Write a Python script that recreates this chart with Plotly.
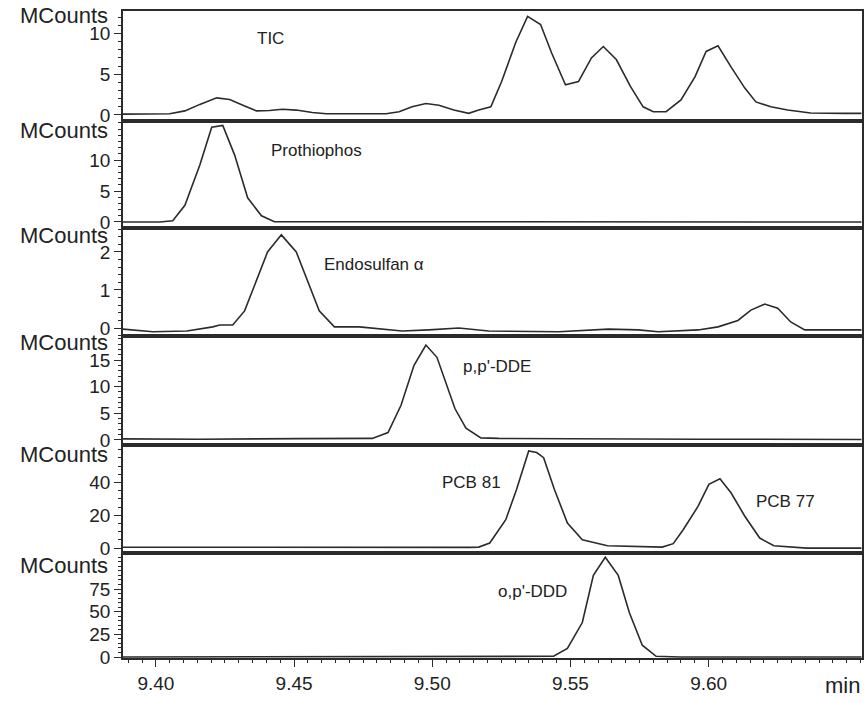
import plotly.graph_objects as go
from plotly.subplots import make_subplots

# ---------------- data ----------------
tic_t = [9.3881, 9.4050, 9.4105, 9.4159, 9.4220, 9.4267, 9.4321, 9.4364, 9.4411, 9.4458,
         9.4508, 9.4566, 9.4617, 9.4833, 9.4880, 9.4927, 9.4977, 9.5024, 9.5078, 9.5132,
         9.5168, 9.5212, 9.5251, 9.5302, 9.5345, 9.5392, 9.5432, 9.5482, 9.5529, 9.5576,
         9.5619, 9.5666, 9.5717, 9.5763, 9.5800, 9.5846, 9.5900, 9.5951, 9.5991, 9.6034,
         9.6081, 9.6131, 9.6171, 9.6225, 9.6286, 9.6369, 9.6492, 9.6553]
tic_v = [0.1, 0.15, 0.5, 1.3, 2.1, 1.9, 1.1, 0.5, 0.55, 0.7,
         0.6, 0.3, 0.15, 0.15, 0.4, 1.0, 1.4, 1.2, 0.6, 0.2,
         0.6, 1.0, 4.1, 8.9, 12.1, 11.1, 7.6, 3.7, 4.1, 7.0,
         8.4, 6.8, 3.5, 1.0, 0.4, 0.4, 1.85, 4.7, 7.8, 8.5,
         5.9, 3.3, 1.6, 1.0, 0.6, 0.25, 0.2, 0.2]

proth_t = [9.3881, 9.4014, 9.4061, 9.4105, 9.4159, 9.4202, 9.4242, 9.4285, 9.4332, 9.4382,
           9.4429, 9.5000, 9.5600, 9.6553]
proth_v = [0.0, 0.0, 0.2, 2.7, 9.2, 15.3, 15.6, 10.8, 3.9, 1.0,
           0.05, 0.05, 0.0, 0.0]

endo_t = [9.3881, 9.3989, 9.4112, 9.4206, 9.4231, 9.4278, 9.4321, 9.4404, 9.4454, 9.4508,
          9.4591, 9.4646, 9.4736, 9.4891, 9.4988, 9.5096, 9.5204, 9.5457, 9.5637, 9.5745,
          9.5818, 9.5962, 9.6034, 9.6106, 9.6153, 9.6203, 9.6250, 9.6297, 9.6348, 9.6553]
endo_v = [-0.03, -0.1, -0.08, 0.03, 0.08, 0.08, 0.45, 2.0, 2.45, 2.0,
          0.45, 0.03, 0.03, -0.08, -0.05, 0.0, -0.08, -0.1, -0.03, -0.05,
          -0.1, -0.05, 0.03, 0.2, 0.47, 0.63, 0.52, 0.16, -0.05, -0.05]

dde_t = [9.3881, 9.4159, 9.4520, 9.4783, 9.4840, 9.4887, 9.4934, 9.4977, 9.5017, 9.5082,
         9.5122, 9.5176, 9.5241, 9.5601, 9.5962, 9.6553]
dde_v = [0.2, 0.15, 0.25, 0.3, 1.4, 6.5, 14.0, 17.8, 15.5, 5.9,
         2.2, 0.4, 0.3, 0.2, 0.15, 0.1]

pcb_t = [9.3881, 9.4520, 9.5132, 9.5168, 9.5208, 9.5266, 9.5305, 9.5349, 9.5378, 9.5403,
         9.5442, 9.5489, 9.5543, 9.5634, 9.5832, 9.5872, 9.5908, 9.5962, 9.6001, 9.6041,
         9.6081, 9.6131, 9.6185, 9.6236, 9.6355, 9.6553]
pcb_v = [0.5, 0.3, 0.4, 0.6, 3.1, 17.3, 35.7, 59.2, 58.2, 55.1,
         35.7, 15.3, 5.1, 1.4, 0.6, 2.7, 11.2, 25.5, 38.8, 42.2,
         33.7, 19.4, 6.1, 1.4, 0.0, 0.0]

ddd_t = [9.3881, 9.5400, 9.5439, 9.5489, 9.5543, 9.5583, 9.5626, 9.5673, 9.5713, 9.5760,
         9.5810, 9.5897, 9.6553]
ddd_v = [0.0, 0.0, 0.8, 9.4, 38.0, 90.0, 110.0, 90.0, 49.0, 13.0,
         0.8, 0.0, 0.0]

series_t = [tic_t, proth_t, endo_t, dde_t, pcb_t, ddd_t]
series_v = [tic_v, proth_v, endo_v, dde_v, pcb_v, ddd_v]

y_tickvals = [[0, 5, 10], [0, 5, 10], [0, 1, 2], [0, 5, 10, 15], [0, 20, 40], [0, 25, 50, 75]]
y_ranges = [[-0.74, 12.76], [-0.97, 16.3], [-0.21, 2.63], [-0.94, 19.5], [-3.0, 62.8], [-1.1, 114.7]]
y_minor = [1, 1, 0.2, 1, 5, 5]

x_tickvals = [9.40, 9.45, 9.50, 9.55, 9.60]
x_ticktext = ["9.40", "9.45", "9.50", "9.55", "9.60"]
x_range = [9.3881, 9.6555]

peak_labels = ["TIC", "Prothiophos", "Endosulfan α", "p,p'-DDE", "PCB 81", "PCB 77", "o,p'-DDD"]
peak_rows = [1, 2, 3, 4, 5, 5, 6]
peak_x = [9.4415, 9.4581, 9.4790, 9.5233, 9.5143, 9.6279, 9.5363]
peak_y = [9.4, 11.5, 1.66, 13.7, 39.9, 28.2, 71.7]

# ---------------- figure ----------------
W, H = 866, 703
ML, MR, MT, MB = 123, 2, 11, 45
bounds_px = [11, 121, 228, 336, 445, 553, 658]
plot_h = H - MT - MB

fig = make_subplots(rows=6, cols=1, shared_xaxes=True, vertical_spacing=0)

FONT = "Arial, Liberation Sans, sans-serif"
LINE = "#2b2b2b"
TXT = "#222222"

for i in range(6):
    fig.add_trace(go.Scatter(x=series_t[i], y=series_v[i], mode="lines",
                             line=dict(color=LINE, width=1.6), showlegend=False,
                             hoverinfo="skip"), row=i + 1, col=1)

label_offsets = [-4, -10, -7, -6, -9, -12]
for i in range(6):
    top = bounds_px[i]
    bot = bounds_px[i + 1]
    d0 = 1 - (bot - MT) / plot_h
    d1 = 1 - (top - MT) / plot_h
    n = "" if i == 0 else str(i + 1)
    fig.layout["yaxis" + n].update(
        domain=[max(0, d0), min(1, d1)], range=y_ranges[i],
        tickvals=y_tickvals[i], ticks="outside", ticklen=7, tickwidth=1.3,
        tickcolor=LINE, showline=True, linecolor=LINE, linewidth=1.6, mirror=True,
        showgrid=False, zeroline=False,
        tickfont=dict(family=FONT, size=19, color=TXT),
        minor=dict(dtick=y_minor[i], ticks="outside", ticklen=3, tickcolor=LINE, tickwidth=1),
    )
    fig.layout["xaxis" + n].update(
        range=x_range, showline=True, linecolor=LINE, linewidth=1.6, mirror=True,
        showgrid=False, zeroline=False,
    )
    if i < 5:
        fig.layout["xaxis" + n].update(showticklabels=False, ticks="")
    else:
        fig.layout["xaxis" + n].update(
            tickvals=x_tickvals, ticktext=x_ticktext, ticks="outside", ticklen=7,
            tickwidth=1.3, tickcolor=LINE,
            tickfont=dict(family=FONT, size=19, color=TXT),
            minor=dict(dtick=0.005, tick0=9.40, ticks="outside", ticklen=3,
                       tickcolor=LINE, tickwidth=1),
        )
    fig.add_annotation(text="MCounts", xref="paper", x=0, xanchor="right", xshift=-13,
                       yref=("y" + n + " domain"), y=1, yanchor="middle",
                       yshift=label_offsets[i], showarrow=False,
                       font=dict(family=FONT, size=22, color=TXT))

for lab, r, px, py in zip(peak_labels, peak_rows, peak_x, peak_y):
    n = "" if r == 1 else str(r)
    fig.add_annotation(text=lab, xref="x" + n, yref="y" + n, x=px, y=py,
                       showarrow=False, font=dict(family=FONT, size=17, color=TXT))

fig.add_annotation(text="min", xref="paper", yref="paper", x=1, y=0, xanchor="right",
                   yanchor="top", yshift=-13, xshift=0, showarrow=False,
                   font=dict(family=FONT, size=22, color=TXT))

fig.update_layout(width=W, height=H, margin=dict(l=ML, r=MR, t=MT, b=MB),
                  plot_bgcolor="white", paper_bgcolor="white")

fig.write_html("out.html")
